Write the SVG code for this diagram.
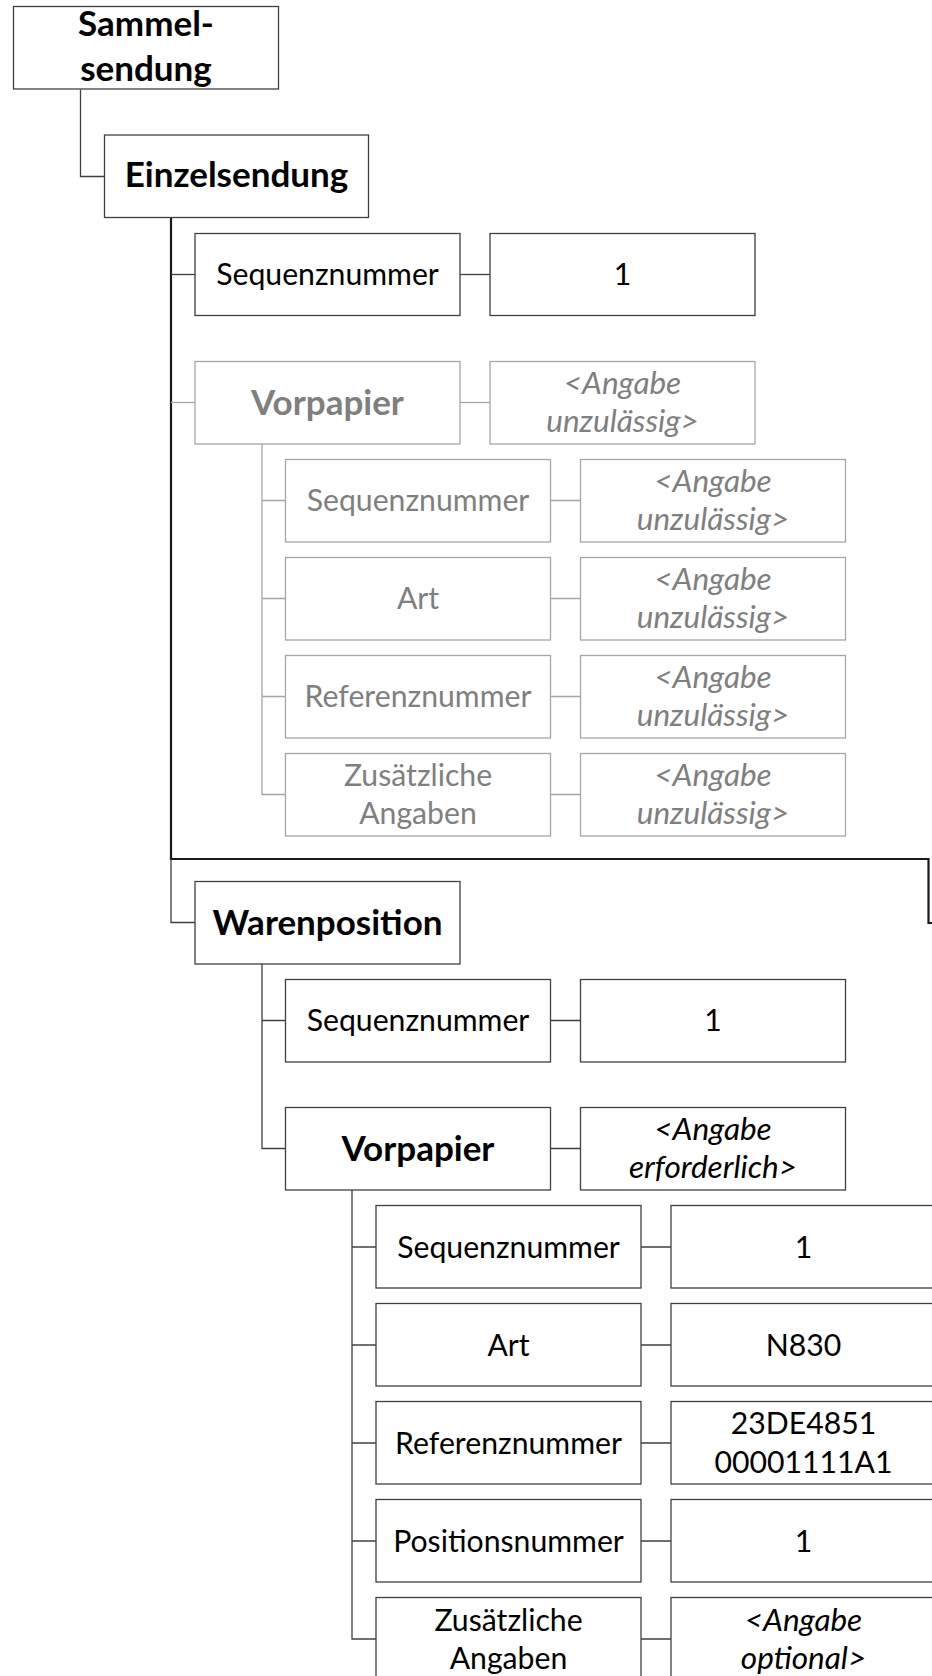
<svg xmlns="http://www.w3.org/2000/svg" width="932" height="1676" viewBox="0 0 932 1676">
<style>
.b{fill:#fff;stroke:#404040;stroke-width:1.3}
.g{fill:#fff;stroke:#a6a6a6;stroke-width:1.3}
.c{fill:none;stroke:#404040;stroke-width:1.3}
.cg{fill:none;stroke:#a6a6a6;stroke-width:1.3}
.ck{fill:none;stroke:#1a1a1a;stroke-width:2.2}
text{font-family:Lato,"Liberation Sans",sans-serif;font-size:30.2px;text-anchor:middle;fill:#000}
.bd{font-weight:bold;font-size:35px}
.it{font-style:italic;font-size:31.5px}
.gt{fill:#7f7f7f}
</style>
<rect width="932" height="1676" fill="#fff"/>
<g id="connectors">
<path class="c" d="M80.5,89.5 V176.5 H104.5"/>
<path class="ck" d="M171,217.5 V859 H928.5 V923 H932"/>
<path class="c" d="M171,274.5 H195"/>
<path class="cg" d="M171,402.5 H195"/>
<path class="c" d="M171,859 V922.5 H195"/>
<path class="c" d="M460,274.5 H490"/>
<path class="cg" d="M460,402.5 H490"/>
<path class="cg" d="M262,444 V794.5 H285.5 M262,500.5 H285.5 M262,598.5 H285.5 M262,696.5 H285.5"/>
<path class="cg" d="M550.5,500.5 H580.5 M550.5,598.5 H580.5 M550.5,696.5 H580.5 M550.5,794.5 H580.5"/>
<path class="c" d="M262,964 V1148.5 H285.5 M262,1020.5 H285.5"/>
<path class="c" d="M550.5,1020.5 H580.5 M550.5,1148.5 H580.5"/>
<path class="c" d="M352,1190 V1639 H376 M352,1247 H376 M352,1345 H376 M352,1443 H376 M352,1541 H376"/>
<path class="c" d="M641,1247 H671 M641,1345 H671 M641,1443 H671 M641,1541 H671 M641,1639 H671"/>
</g>
<g id="sammelsendung"><rect class="b" x="13.5" y="6.5" width="265" height="82.5"/><text class="bd" x="146" y="36">Sammel-</text><text class="bd" x="146" y="81">sendung</text></g>
<g id="einzelsendung"><rect class="b" x="104.5" y="135" width="264" height="82.5"/><text class="bd" x="236.5" y="186.5">Einzelsendung</text></g>
<g id="e-seq"><rect class="b" x="195" y="233.5" width="265" height="82"/><text x="327.5" y="285">Sequenznummer</text></g>
<g id="e-seq-val"><rect class="b" x="490" y="233.5" width="265" height="82"/><text x="622.5" y="285">1</text></g>
<g id="e-vorpapier"><rect class="g" x="195" y="361.5" width="265" height="82.5"/><text class="bd gt" x="327.5" y="415">Vorpapier</text></g>
<g id="e-vorpapier-val"><rect class="g" x="490" y="361.5" width="265" height="82.5"/><text class="it gt" x="622.5" y="393.5">&lt;Angabe</text><text class="it gt" x="622.5" y="431.5">unzulässig&gt;</text></g>
<g id="e-vp-seq"><rect class="g" x="285.5" y="459.5" width="265" height="82.5"/><text class="gt" x="418" y="511">Sequenznummer</text></g>
<g id="e-vp-seq-val"><rect class="g" x="580.5" y="459.5" width="265" height="82.5"/><text class="it gt" x="713" y="491.5">&lt;Angabe</text><text class="it gt" x="713" y="529.5">unzulässig&gt;</text></g>
<g id="e-vp-art"><rect class="g" x="285.5" y="557.5" width="265" height="82.5"/><text class="gt" x="418" y="609">Art</text></g>
<g id="e-vp-art-val"><rect class="g" x="580.5" y="557.5" width="265" height="82.5"/><text class="it gt" x="713" y="589.5">&lt;Angabe</text><text class="it gt" x="713" y="627.5">unzulässig&gt;</text></g>
<g id="e-vp-ref"><rect class="g" x="285.5" y="655.5" width="265" height="82.5"/><text class="gt" x="418" y="707">Referenznummer</text></g>
<g id="e-vp-ref-val"><rect class="g" x="580.5" y="655.5" width="265" height="82.5"/><text class="it gt" x="713" y="687.5">&lt;Angabe</text><text class="it gt" x="713" y="725.5">unzulässig&gt;</text></g>
<g id="e-vp-zus"><rect class="g" x="285.5" y="753.5" width="265" height="82.5"/><text class="gt" x="418" y="785.5">Zusätzliche</text><text class="gt" x="418" y="823.5">Angaben</text></g>
<g id="e-vp-zus-val"><rect class="g" x="580.5" y="753.5" width="265" height="82.5"/><text class="it gt" x="713" y="785.5">&lt;Angabe</text><text class="it gt" x="713" y="823.5">unzulässig&gt;</text></g>
<g id="warenposition"><rect class="b" x="195" y="881.5" width="265" height="82.5"/><text class="bd" x="327.5" y="935">Warenposition</text></g>
<g id="w-seq"><rect class="b" x="285.5" y="979.5" width="265" height="82.5"/><text x="418" y="1031">Sequenznummer</text></g>
<g id="w-seq-val"><rect class="b" x="580.5" y="979.5" width="265" height="82.5"/><text x="713" y="1031">1</text></g>
<g id="w-vorpapier"><rect class="b" x="285.5" y="1107.5" width="265" height="82.5"/><text class="bd" x="418" y="1161">Vorpapier</text></g>
<g id="w-vorpapier-val"><rect class="b" x="580.5" y="1107.5" width="265" height="82.5"/><text class="it" x="713" y="1139.5">&lt;Angabe</text><text class="it" x="713" y="1177.5">erforderlich&gt;</text></g>
<g id="w-vp-seq"><rect class="b" x="376" y="1205.5" width="265" height="82.5"/><text x="508.5" y="1257.5">Sequenznummer</text></g>
<g id="w-vp-seq-val"><rect class="b" x="671" y="1205.5" width="265" height="82.5"/><text x="803.5" y="1257.5">1</text></g>
<g id="w-vp-art"><rect class="b" x="376" y="1303.5" width="265" height="82.5"/><text x="508.5" y="1355.5">Art</text></g>
<g id="w-vp-art-val"><rect class="b" x="671" y="1303.5" width="265" height="82.5"/><text x="803.5" y="1355.5">N830</text></g>
<g id="w-vp-ref"><rect class="b" x="376" y="1401.5" width="265" height="82.5"/><text x="508.5" y="1453.5">Referenznummer</text></g>
<g id="w-vp-ref-val"><rect class="b" x="671" y="1401.5" width="265" height="82.5"/><text x="803.5" y="1433.5">23DE4851</text><text x="803.5" y="1472.5">00001111A1</text></g>
<g id="w-vp-pos"><rect class="b" x="376" y="1499.5" width="265" height="82.5"/><text x="508.5" y="1551.5">Positionsnummer</text></g>
<g id="w-vp-pos-val"><rect class="b" x="671" y="1499.5" width="265" height="82.5"/><text x="803.5" y="1551.5">1</text></g>
<g id="w-vp-zus"><rect class="b" x="376" y="1597.5" width="265" height="82.5"/><text x="508.5" y="1630.5">Zusätzliche</text><text x="508.5" y="1668.5">Angaben</text></g>
<g id="w-vp-zus-val"><rect class="b" x="671" y="1597.5" width="265" height="82.5"/><text class="it" x="803.5" y="1630.5">&lt;Angabe</text><text class="it" x="803.5" y="1668.5">optional&gt;</text></g>
</svg>
